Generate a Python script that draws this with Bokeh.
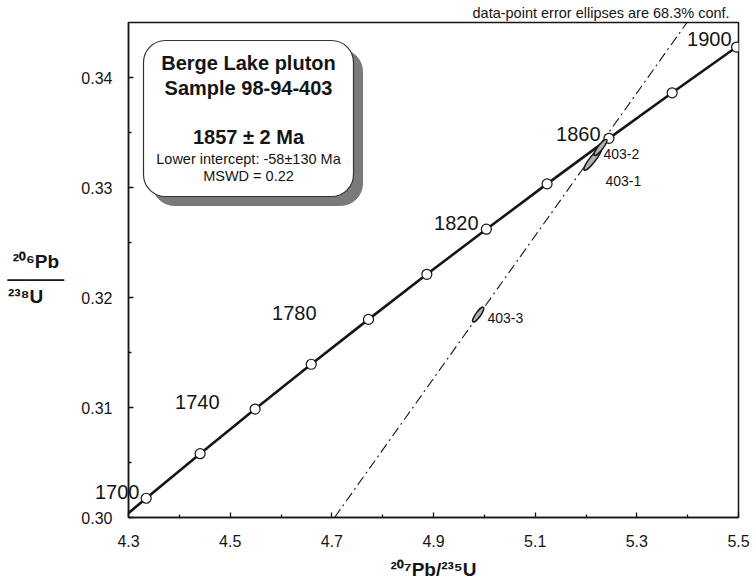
from bokeh.plotting import figure
from bokeh.models import (Label, BoxAnnotation, Slope, FixedTicker, LinearAxis,
                          PrintfTickFormatter, Range1d)
from bokeh.embed import file_html
from bokeh.resources import INLINE
import math

# ---------------- data ----------------
ages = [1700, 1720, 1740, 1760, 1780, 1800, 1820, 1840, 1860, 1880, 1900]
conc_x = [4.3348, 4.4409, 4.5491, 4.6595, 4.7721, 4.8869, 5.0040, 5.1234, 5.2452, 5.3695, 5.4962]
conc_y = [0.30175, 0.30580, 0.30986, 0.31393, 0.31801, 0.32211, 0.32621, 0.33033, 0.33447, 0.33861, 0.34277]
# concordia curve continued a little beyond the marked ages (clipped by the frame)
curve_x = [4.2307] + conc_x + [5.6254]
curve_y = [0.29772] + conc_y + [0.34695]
label_ages = [1700, 1740, 1780, 1820, 1860, 1900]

spot_names = ["403-1", "403-2", "403-3"]
spot_x = [5.2129, 5.2286, 4.9880]
spot_y = [0.33255, 0.33364, 0.31845]

upper_x, upper_y = 5.2269, 0.33385      # 1857 Ma upper intercept
lower_x, lower_y = -0.0555, -0.00896    # -58 Ma lower intercept

x_ticks = [4.3, 4.5, 4.7, 4.9, 5.1, 5.3, 5.5]
x_minor = [4.4, 4.6, 4.8, 5.0, 5.2, 5.4]
y_ticks = [0.30, 0.31, 0.32, 0.33, 0.34]
y_minor = [0.305, 0.315, 0.325, 0.335]

FONT = "Liberation Sans"
INK = "#151515"
NB = "\u00a0"

p = figure(width=753, height=586, x_range=Range1d(4.3, 5.5), y_range=Range1d(0.30, 0.345),
           output_backend="svg", toolbar_location=None,
           min_border_left=128, min_border_right=15, min_border_top=22, min_border_bottom=69)
p.grid.visible = False
p.outline_line_color = INK
p.outline_line_width = 1.5
p.background_fill_color = "white"

for ax, ticks, minor, fmt, sto in ((p.xaxis, x_ticks, x_minor, "%.1f", 17),
                                   (p.yaxis, y_ticks, y_minor, "%.2f", 16)):
    ax.ticker = FixedTicker(ticks=ticks, minor_ticks=minor)
    ax.formatter = PrintfTickFormatter(format=fmt)
    ax.major_tick_in = 5
    ax.major_tick_out = 0
    ax.minor_tick_in = 3
    ax.minor_tick_out = 0
    ax.axis_line_color = INK
    ax.axis_line_width = 1.5
    ax.major_tick_line_color = INK
    ax.minor_tick_line_color = INK
    ax.major_tick_line_width = 1.3
    ax.minor_tick_line_width = 1.3
    ax.major_label_text_font = FONT
    ax.major_label_text_font_size = "16px"
    ax.major_label_text_color = INK
    ax.major_label_standoff = sto
    ax.axis_label_text_font = FONT
    ax.axis_label_text_font_style = "bold"
    ax.axis_label_text_font_size = "19px"
    ax.axis_label_text_color = INK

p.xaxis.axis_label = "\u00b2\u2070\u2077Pb/\u00b2\u00b3\u2075U"
p.xaxis.axis_label_standoff = 9
p.yaxis.axis_label = (" \n\u00b2\u2070\u2076Pb" + NB + "\n\u2014\u2014\u2014\n\u00b2\u00b3\u2078U"
                      + NB * 4)
p.yaxis.axis_label_orientation = "horizontal"
p.yaxis.axis_label_standoff = 14
p.yaxis.axis_label_text_line_height = 0.85
p.yaxis.axis_label_text_align = "center"

p.title.text = "data-point error ellipses are 68.3% conf."
p.title.text_font = FONT
p.title.text_font_size = "14.5px"
p.title.text_font_style = "normal"
p.title.text_color = INK
p.title.align = "left"
p.title.offset = 344
p.title.standoff = 4

FL, FB = 128, 517   # frame left / bottom in picture pixels


def X(px):
    return 4.3 + (px - FL) * 1.2 / 610


def Y(py):
    return 0.30 + (FB - py) * 0.045 / 495


def lab(text, px, py, size, bold=False, align="left", baseline="middle"):
    p.add_layout(Label(x=X(px), y=Y(py), text=text, text_font=FONT, text_font_size=f"{size}px",
                       text_font_style="bold" if bold else "normal",
                       text_align=align, text_baseline=baseline, text_color=INK))


# discordia (dash-dot)
grad = (upper_y - lower_y) / (upper_x - lower_x)
p.add_layout(Slope(gradient=grad, y_intercept=lower_y - grad * lower_x,
                   line_color=INK, line_width=1.1, line_dash="10 4 2 4", level="underlay"))

# concordia
p.line(curve_x, curve_y, line_color=INK, line_width=2.6)
p.scatter(conc_x, conc_y, marker="circle", size=10, fill_color="white",
          line_color=INK, line_width=1.2)

# error ellipses
p.ellipse(x=spot_x, y=spot_y, width=[27, 20, 18], height=[6, 5, 5],
          angle=[math.radians(52), math.radians(52), math.radians(54)],
          width_units="screen", height_units="screen",
          fill_color="#b0b0b0", line_color=INK, line_width=1.4)

# age labels
age_pos = {1700: (141, 492), 1740: (219, 401), 1780: (316, 312),
           1820: (478, 222), 1860: (600, 133), 1900: (731, 38)}
for a in label_ages:
    if a == 1700:
        # this label straddles the frame edge, so it is drawn as the tick label of a
        # bare second y axis (side-panel content is not clipped to the frame)
        ty = round(Y(age_pos[a][1]), 6)
        age_axis = LinearAxis(ticker=FixedTicker(ticks=[ty], minor_ticks=[]),
                              major_label_overrides={ty: str(a)},
                              axis_line_color=None, major_tick_line_color=None,
                              minor_tick_line_color=None, major_tick_in=0, major_tick_out=0,
                              major_label_standoff=-135, major_label_text_font=FONT,
                              major_label_text_font_size="20px",
                              major_label_text_color=INK)
        p.add_layout(age_axis, "left")
    else:
        lab(str(a), age_pos[a][0], age_pos[a][1], 20, align="right")

# spot labels
spot_pos = {"403-2": (603, 153), "403-1": (605, 180), "403-3": (487, 317)}
for n in spot_names:
    lab(n, spot_pos[n][0], spot_pos[n][1], 14)

# info box with shadow
p.add_layout(BoxAnnotation(left=X(152), right=X(362), top=Y(49), bottom=Y(205),
                           fill_color="#7a7a7a", fill_alpha=1.0, line_color="#7a7a7a",
                           line_alpha=1.0, border_radius=22))
p.add_layout(BoxAnnotation(left=X(143), right=X(353), top=Y(40), bottom=Y(196),
                           fill_color="white", fill_alpha=1.0, line_color="#333333",
                           line_width=1.2, line_alpha=1.0, border_radius=22))
lab("Berge Lake pluton", 248, 62, 20, bold=True, align="center")
lab("Sample 98-94-403", 248, 87, 20, bold=True, align="center")
lab("1857 \u00b1 2 Ma", 248, 136, 20, bold=True, align="center")
lab("Lower intercept: -58\u00b1130 Ma", 248, 158, 14.5, align="center")
lab("MSWD = 0.22", 248, 175, 14.5, align="center")

open("out.html", "w").write(file_html(p, INLINE))
